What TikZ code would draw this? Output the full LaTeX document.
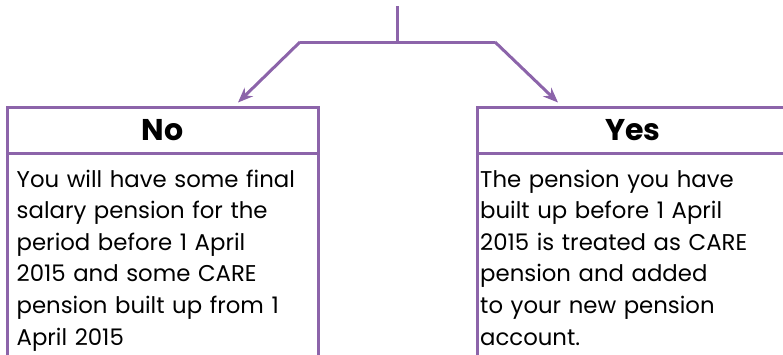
\documentclass[tikz,border=0pt]{standalone}
\usepackage{fontspec}
\setmainfont{Poppins}
\usetikzlibrary{positioning,arrows.meta}
\definecolor{pensionpurple}{RGB}{140,100,170}
\tikzset{
  headbox/.style={draw=pensionpurple, line width=3pt, minimum width=311pt, minimum height=46pt, inner sep=0pt, font=\fontsize{30}{32}\selectfont\bfseries},
  bodybox/.style={draw=pensionpurple, line width=3pt, minimum width=311pt, minimum height=260pt, inner sep=0pt},
  bodytext/.style={text width=300pt, align=left, inner sep=0pt, anchor=north west, font=\fontsize{22.8}{31.6}\selectfont},
  forkline/.style={pensionpurple, line width=3pt},
  link/.style={forkline, -{Stealth[length=15pt,width=12pt]}}
}
\begin{document}
\begin{tikzpicture}[x=1pt,y=-1pt]
  \useasboundingbox (0,0) rectangle (783,354);
  % answer boxes
  \node(noBody)  [bodybox] at (162.5,283) {};
  \node(noHead)  [headbox] at (162.5,130) {No};
  \node(yesBody) [bodybox] at (633,283) {};
  \node(yesHead) [headbox] at (633,130) {Yes};
  \node(noText)  [bodytext] at ([xshift=11pt,yshift=-18pt]noBody.north west)
    {You will have some final\\ salary pension for the\\ period before 1 April\\ 2015 and some CARE\\ pension built up from 1\\ April 2015};
  \node(yesText) [bodytext] at ([xshift=4pt,yshift=-18pt]yesBody.north west)
    {The pension you have\\ built up before 1 April\\ 2015 is treated as CARE\\ pension and added\\ to your new pension\\ account.};
  % fork
  \coordinate(stemTop) at (397,6);
  \coordinate(fork)    at (397,42);
  \coordinate(forkL)   at (300,42);
  \coordinate(forkR)   at (495,42);
  \draw[forkline] (stemTop) -- (fork);
  \draw[forkline] (forkL) -- (forkR);
  \draw[link] (forkL) -- ([xshift=75.5pt,yshift=3pt]noHead.north);
  \draw[link] (forkR) -- ([xshift=-75pt,yshift=3pt]yesHead.north);
\end{tikzpicture}
\end{document}
